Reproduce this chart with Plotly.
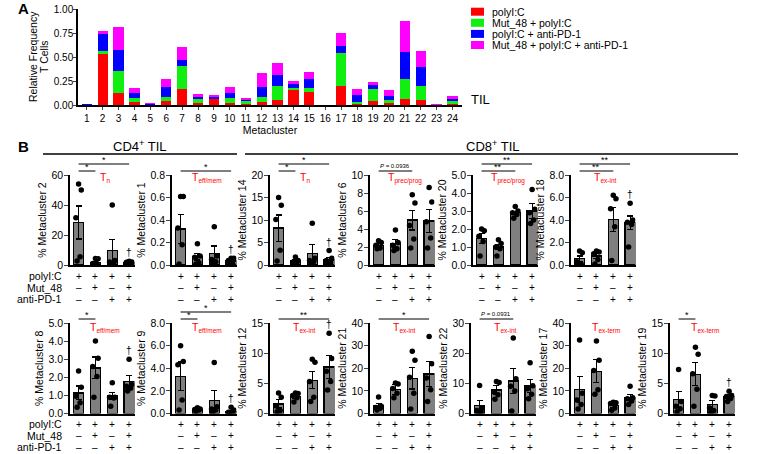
import plotly.graph_objects as go

FONT = "Liberation Sans, Arial, sans-serif"
W, H = 768, 454

# ---------------- panel A data ----------------
metaclusters = list(range(1, 25))
series_names = ["polyI:C", "Mut_48 + polyI:C", "polyI:C + anti-PD-1", "Mut_48 + polyI:C + anti-PD-1"]
series_colors = ["#ff0000", "#11ee11", "#0000ff", "#ff00ff"]
freq_polyic = [0.0, 0.53, 0.13, 0.028, 0.003, 0.045, 0.17, 0.017, 0.062, 0.017, 0.014, 0.035,
               0.052, 0.164, 0.132, 0.0, 0.202, 0.017, 0.045, 0.024, 0.063, 0.052, 0.001, 0.012]
freq_mut48 = [0.0, 0.03, 0.225, 0.049, 0.002, 0.042, 0.237, 0.049, 0.005, 0.056, 0.024, 0.052,
              0.143, 0.017, 0.042, 0.0, 0.345, 0.018, 0.119, 0.028, 0.205, 0.147, 0.001, 0.033]
freq_antipd1 = [0.005, 0.185, 0.215, 0.048, 0.01, 0.098, 0.062, 0.021, 0.022, 0.056, 0.021, 0.098,
                0.119, 0.042, 0.101, 0.0, 0.073, 0.07, 0.045, 0.046, 0.289, 0.198, 0.002, 0.021]
freq_combo = [0.0, 0.025, 0.25, 0.053, 0.002, 0.087, 0.136, 0.031, 0.008, 0.056, 0.018, 0.153,
              0.129, 0.024, 0.073, 0.0, 0.129, 0.066, 0.035, 0.059, 0.324, 0.17, 0.003, 0.028]

# ---------------- panel B data ----------------
groups = [1, 2, 3, 4]
row_names = ["polyI:C", "Mut_48", "anti-PD-1"]
row_signs = [["+", "+", "+", "+"], ["–", "+", "–", "+"], ["–", "–", "+", "+"]]

mc2_mean = [28.4, 1.8, 9.8, 1.8]
mc2_sem = [11.0, 0.8, 7.3, 0.3]
mc2_pts = [[54, 50, 31.5, 5.5, 2.7], [4.4, 4.2, 1.0, 0.8, 0.5], [40, 3, 2, 1.5, 1], [2.5, 2.0, 1.8, 1.5, 1.0]]

mc1_mean = [0.32, 0.074, 0.104, 0.035]
mc1_sem = [0.13, 0.03, 0.065, 0.025]
mc1_pts = [[0.61, 0.61, 0.33, 0.18, 0.01], [0.19, 0.08, 0.07, 0.02, 0.01],
           [0.34, 0.08, 0.05, 0.03, 0.02], [0.06, 0.06, 0.04, 0.01, 0.0]]

mc14_mean = [8.2, 0.9, 2.6, 1.1]
mc14_sem = [2.9, 0.3, 1.9, 0.6]
mc14_pts = [[15, 13.3, 10.1, 3.3, 0.9], [1.8, 1.0, 0.6, 0.5, 0.3], [9.3, 1.5, 1.0, 0.8, 0.5], [3.2, 1.5, 1.0, 0.5, 0.3]]

mc6_mean = [2.2, 2.4, 5.0, 4.9]
mc6_sem = [0.2, 0.4, 1.1, 1.3]
mc6_pts = [[2.7, 2.5, 2.2, 1.9, 1.8], [3.9, 2.5, 2.2, 1.8, 1.6], [7.8, 6.9, 4.4, 2.9, 1.9], [8.6, 7.0, 4.8, 3.0, 1.9]]

mc20_mean = [1.47, 1.0, 2.9, 3.0]
mc20_sem = [0.28, 0.15, 0.08, 0.4]
mc20_pts = [[2.0, 1.9, 1.6, 1.3, 0.5], [1.4, 1.2, 1.0, 0.9, 0.5], [3.25, 3.0, 2.9, 2.8, 2.6], [4.2, 3.1, 2.9, 2.5, 2.3]]

mc18_mean = [0.55, 0.8, 4.05, 3.75]
mc18_sem = [0.25, 0.2, 1.05, 0.6]
mc18_pts = [[1.25, 1.1, 0.3, 0.1, 0.0], [1.25, 1.15, 1.0, 0.5, 0.1], [6.2, 5.9, 5.0, 3.4, 0.4], [5.5, 4.0, 3.8, 3.6, 1.6]]

mc8_mean = [1.14, 2.52, 0.96, 1.75]
mc8_sem = [0.38, 0.6, 0.2, 0.35]
mc8_pts = [[2.35, 1.45, 0.95, 0.6, 0.35], [4.0, 3.05, 2.6, 2.05, 0.9], [1.7, 0.9, 0.9, 0.85, 0.4], [3.0, 1.6, 1.5, 1.4, 1.25]]

mc9_mean = [3.3, 0.35, 1.18, 0.2]
mc9_sem = [1.25, 0.06, 0.82, 0.1]
mc9_pts = [[6.0, 4.6, 4.3, 1.2, 0.3], [0.5, 0.4, 0.35, 0.3, 0.2], [4.5, 0.6, 0.4, 0.3, 0.1], [0.55, 0.3, 0.1, 0.05, 0.0]]

mc12_mean = [1.6, 2.8, 5.5, 7.7]
mc12_sem = [0.7, 0.3, 1.4, 1.9]
mc12_pts = [[3.4, 2.7, 1.3, 0.5, 0.3], [3.4, 3.3, 3.0, 2.6, 1.9], [9.0, 8.5, 5.3, 2.7, 2.0], [13.3, 9.1, 7.0, 5.3, 3.9]]

mc21_mean = [3.4, 10.7, 15.6, 17.5]
mc21_sem = [1.1, 2.2, 4.8, 5.6]
mc21_pts = [[7.3, 3.2, 2.7, 2.3, 1.5], [13.5, 13.0, 11.0, 9.0, 7.0], [27.5, 23.5, 16.0, 9.0, 2.0], [34.0, 22.0, 15.7, 10.5, 5.3]]

mc22_mean = [2.6, 7.8, 10.8, 9.1]
mc22_sem = [1.7, 1.4, 4.1, 2.2]
mc22_pts = [[9.3, 1.8, 1.0, 0.5, 0.2], [10.6, 10.3, 7.2, 6.2, 4.7], [25.0, 11.5, 9.0, 7.5, 0.8], [16.8, 9.2, 8.2, 6.4, 4.9]]

mc17_mean = [10.7, 18.7, 3.6, 7.0]
mc17_sem = [5.7, 5.0, 0.8, 1.3]
mc17_pts = [[32.5, 9.0, 6.0, 4.0, 2.0], [32.0, 23.5, 19.0, 10.5, 8.5], [5.0, 4.8, 4.4, 2.4, 1.4], [12.0, 7.0, 6.5, 5.5, 4.0]]

mc19_mean = [2.3, 6.5, 1.5, 2.8]
mc19_sem = [1.35, 1.9, 0.65, 0.35]
mc19_pts = [[7.3, 2.0, 1.2, 0.8, 0.3], [11.0, 9.8, 6.6, 4.0, 1.2], [3.0, 2.9, 0.9, 0.5, 0.2], [3.7, 3.0, 2.8, 2.5, 2.0]]

# (title, mean, sem, points, ymax, dtick, tickformat, subset, row, axis left px)
panels = [
    ("% Metacluster 2", mc2_mean, mc2_sem, mc2_pts, 60, 20, "d", "n", 0, 70),
    ("% Metacluster 1", mc1_mean, mc1_sem, mc1_pts, 0.8, 0.2, ".1f", "eff/mem", 0, 172),
    ("% Metacluster 14", mc14_mean, mc14_sem, mc14_pts, 20, 5, "d", "n", 0, 270),
    ("% Metacluster 6", mc6_mean, mc6_sem, mc6_pts, 10, 2, "d", "prec/prog", 0, 370),
    ("% Metacluster 20", mc20_mean, mc20_sem, mc20_pts, 5, 1, ".1f", "prec/prog", 0, 473),
    ("% Metacluster 18", mc18_mean, mc18_sem, mc18_pts, 8, 2, ".1f", "ex-int", 0, 571),
    ("% Metacluster 8", mc8_mean, mc8_sem, mc8_pts, 5, 1, ".1f", "eff/mem", 1, 70),
    ("% Metacluster 9", mc9_mean, mc9_sem, mc9_pts, 8, 2, ".1f", "eff/mem", 1, 172),
    ("% Metacluster 12", mc12_mean, mc12_sem, mc12_pts, 15, 5, "d", "ex-int", 1, 270),
    ("% Metacluster 21", mc21_mean, mc21_sem, mc21_pts, 40, 10, "d", "ex-int", 1, 370),
    ("% Metacluster 22", mc22_mean, mc22_sem, mc22_pts, 30, 10, "d", "ex-int", 1, 471),
    ("% Metacluster 17", mc17_mean, mc17_sem, mc17_pts, 40, 10, "d", "ex-term", 1, 571),
    ("% Metacluster 19", mc19_mean, mc19_sem, mc19_pts, 15, 5, "d", "ex-term", 1, 670),
]

# significance bars: panel index, from group, to group, text, level
comparisons = [
    (0, 1, 2, "*", 0), (0, 1, 4, "*", 1),
    (1, 1, 4, "*", 0),
    (2, 1, 2, "*", 0), (2, 1, 4, "*", 1),
    (3, 1, 3, "<i>P</i> = 0.0936", 0),
    (4, 1, 3, "**", 0), (4, 1, 4, "**", 1),
    (5, 1, 3, "**", 0), (5, 1, 4, "**", 1),
    (6, 1, 2, "*", 0),
    (7, 1, 2, "*", 0), (7, 1, 4, "*", 1),
    (8, 1, 4, "**", 0),
    (9, 1, 4, "*", 0),
    (10, 1, 3, "<i>P</i> = 0.0931", 0),
    (12, 1, 2, "*", 0),
]
dagger_panels = [0, 1, 2, 5, 6, 7, 8, 12]


def px(x):
    return x / W


def py(y):
    return 1 - y / H


def note(text, x, y, xref="paper", yref="paper", size=10, color="black", **kw):
    d = dict(text=text, x=x, y=y, xref=xref, yref=yref, showarrow=False,
             font=dict(size=size, color=color, family=FONT), xanchor="center", yanchor="middle")
    d.update(kw)
    return d


fig = go.Figure()
annotations = []
shapes = []

# ---------------- panel A ----------------
for name, vals, color in zip(series_names, [freq_polyic, freq_mut48, freq_antipd1, freq_combo], series_colors):
    fig.add_trace(go.Bar(x=metaclusters, y=vals, name=name, width=0.64, marker=dict(color=color, line=dict(width=0)),
                         xaxis="x", yaxis="y", showlegend=False))

layout = dict(
    xaxis=dict(domain=[px(78), px(462)], range=[0.45, 24.6], anchor="y", tickvals=metaclusters,
               ticks="outside", ticklen=3, tickwidth=1.2, showline=True, linecolor="black", linewidth=1.5,
               tickfont=dict(size=10), showgrid=False, zeroline=False,
               title=dict(text="Metacluster", font=dict(size=10.5), standoff=2)),
    yaxis=dict(domain=[py(105), py(9.3)], range=[0, 1], anchor="x",
               tickvals=[0, 0.25, 0.5, 0.75, 1.0], ticktext=["0.00", "0.25", "0.50", "0.75", "1.00"],
               ticks="outside", ticklen=3, tickwidth=1.3, showline=True, linecolor="black", linewidth=1.5,
               tickfont=dict(size=10), showgrid=False, zeroline=False, ticklabelstandoff=-2),
)
annotations.append(note("Relative Frequency", px(33), py(57), size=10.5, textangle=-90))
annotations.append(note("T Cells", px(44), py(57), size=10.5, textangle=-90))

for i, (name, color) in enumerate(zip(series_names, series_colors)):
    yc = 11.7 + i * 11.1
    shapes.append(dict(type="rect", xref="paper", yref="paper", x0=px(471), x1=px(484), y0=py(yc + 4), y1=py(yc - 4),
                       fillcolor=color, line=dict(width=0)))
    annotations.append(note(name, px(490), py(yc), size=10.5, xanchor="left"))

annotations.append(note("TIL", px(469), py(100), size=13, xanchor="left"))
annotations.append(note("<b>A</b>", px(23), py(8), size=15))
annotations.append(note("<b>B</b>", px(23), py(146), size=15))

# ---------------- panel B ----------------
row_px = [(175, 265), (323, 413.5)]
sig_y = [(171, 164), (319, 312)]
label_y = [178, 327]
table_y = [[276, 287.5, 299], [424, 435.5, 447]]
jitter = [0.0, 0.16, -0.16, 0.09, -0.09]

for k, (title, mean, sem, pts, ymax, dtick, fmt, subset, row, left) in enumerate(panels):
    n = k + 2
    xa, ya = f"x{n}", f"y{n}"
    top, bottom = row_px[row]
    fig.add_trace(go.Bar(x=groups, y=mean, width=0.6, xaxis=xa, yaxis=ya, showlegend=False,
                         marker=dict(color="#7f7f7f", line=dict(color="black", width=1.3)),
                         error_y=dict(type="data", array=sem, color="black", thickness=1.2, width=3)))
    xs, ys = [], []
    for g, vals in zip(groups, pts):
        for j, v in enumerate(vals):
            xs.append(g + jitter[j])
            ys.append(v)
    fig.add_trace(go.Scatter(x=xs, y=ys, mode="markers", xaxis=xa, yaxis=ya, showlegend=False,
                             marker=dict(color="black", size=5.5)))
    layout[f"xaxis{n}"] = dict(domain=[px(left), px(left + 64.5)], range=[0.49, 4.32], anchor=ya,
                               showticklabels=False, ticks="", showline=True, linecolor="black", linewidth=1.5,
                               showgrid=False, zeroline=False)
    layout[f"yaxis{n}"] = dict(domain=[py(bottom), py(top)], range=[0, ymax], anchor=xa, dtick=dtick,
                               tickformat=fmt, ticks="outside", ticklen=4, tickwidth=1.3, showline=True,
                               linecolor="black", linewidth=1.5, tickfont=dict(size=10.5), showgrid=False,
                               zeroline=False, ticklabelstandoff=-1,
                               title=dict(text=title, font=dict(size=10.5), standoff=3))
    label = f"T<sub><span style='font-size:6.5px'>{subset}</span></sub>"
    annotations.append(note(label, 2.55, py(label_y[row]), xref=xa, size=10.5, color="#ff0000"))
    for r, signs in enumerate(row_signs):
        for g, s in zip(groups, signs):
            annotations.append(note(s, g, py(table_y[row][r]), xref=xa, size=10))
    if k in dagger_panels:
        annotations.append(note("†", 4, max(max(pts[3]), mean[3] + sem[3]), xref=xa, yref=ya,
                                yanchor="bottom", yshift=1))

# treatment row labels
for row in range(2):
    for r, name in enumerate(row_names):
        annotations.append(note(name, px(64), py(table_y[row][r]), size=10.5, xanchor="right"))

# triple dagger on metacluster 20
annotations.append(note("†††", 4.45, py(label_y[0]), xref="x6", size=10, color="#cc0000"))

for k, a, b, txt, level in comparisons:
    n = k + 2
    yline = sig_y[panels[k][8]][level]
    shapes.append(dict(type="line", xref=f"x{n}", yref="paper", x0=a, x1=b, y0=py(yline), y1=py(yline),
                       line=dict(color="black", width=1.2)))
    small = txt.startswith("<i>")
    annotations.append(note(txt, (a + b) / 2, py(yline), xref=f"x{n}", size=6 if small else 9,
                            yanchor="bottom", yshift=0 if small else -3))

# group headers
annotations.append(note("CD4<sup>+</sup> TIL", px(140), py(146), size=13))
annotations.append(note("CD8<sup>+</sup> TIL", px(493), py(146), size=13))
shapes.append(dict(type="line", xref="paper", yref="paper", x0=px(43), x1=px(237), y0=py(154), y1=py(154),
                   line=dict(color="black", width=1.3)))
shapes.append(dict(type="line", xref="paper", yref="paper", x0=px(245), x1=px(738), y0=py(154), y1=py(154),
                   line=dict(color="black", width=1.3)))

fig.update_layout(
    **layout,
    template="none",
    barmode="stack",
    width=W, height=H,
    margin=dict(l=0, r=0, t=0, b=0),
    paper_bgcolor="white", plot_bgcolor="white",
    font=dict(family=FONT, color="black", size=10),
    annotations=annotations,
    shapes=shapes,
)
fig.write_html("out.html", config={"displayModeBar": False},
               post_script="document.body.style.margin='0px';")
